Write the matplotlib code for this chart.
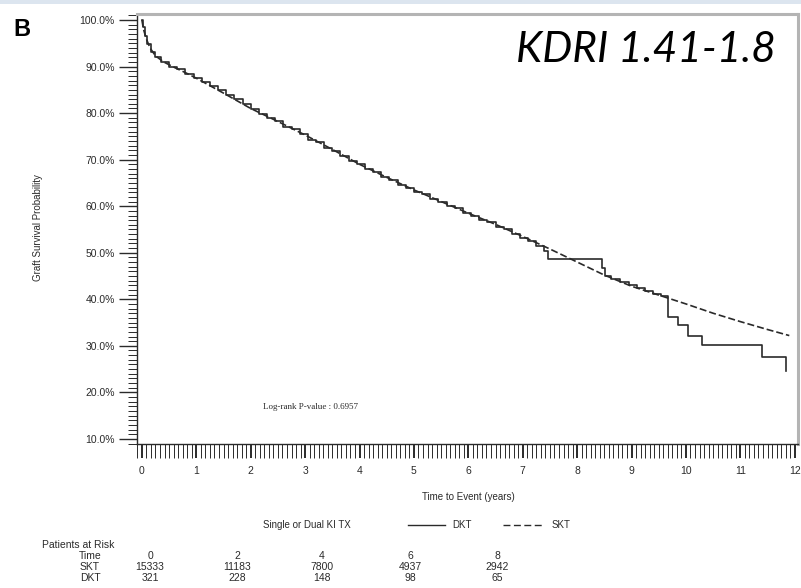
import matplotlib
matplotlib.use('Agg')
import matplotlib.pyplot as plt
from matplotlib.lines import Line2D
from matplotlib.patches import Rectangle
from matplotlib.ticker import MultipleLocator, FuncFormatter

W, H = 801, 588

# SKT: smooth dashed curve (years, survival %)
skt_time = [0, 0.03, 0.08, 0.15, 0.25, 0.4, 0.6, 0.8, 1.0, 1.5, 2.0, 2.5, 3.0, 3.5,
            4.0, 4.5, 5.0, 5.5, 6.0, 6.5, 7.0, 7.5, 8.0, 8.5, 9.0, 9.5, 10.0, 10.5,
            11.0, 11.5, 11.9]
skt_surv = [100, 98.0, 96.0, 94.0, 92.3, 91.0, 89.8, 88.7, 87.5, 84.3, 81.0, 78.2, 75.3,
            72.2, 69.0, 66.2, 63.5, 61.0, 58.5, 56.1, 53.5, 50.8, 48.0, 45.2, 42.8,
            40.9, 39.0, 37.0, 35.2, 33.5, 32.2]

# DKT: step curve
dkt_time = [0, 0.02, 0.05, 0.1, 0.16, 0.24, 0.35,
            0.5, 0.65, 0.8, 0.95, 1.1, 1.25, 1.4, 1.55, 1.7, 1.85,
            2.0, 2.15, 2.3, 2.45, 2.6, 2.75, 2.9, 3.05, 3.2, 3.35,
            3.5, 3.65, 3.8, 3.95, 4.1, 4.25, 4.4, 4.55, 4.7, 4.85,
            5.0, 5.15, 5.3, 5.45, 5.6, 5.75, 5.9, 6.05, 6.2, 6.35,
            6.5, 6.65, 6.8, 6.95, 7.1, 7.25, 7.4, 7.47,
            8.45, 8.52, 8.62, 8.78, 8.95, 9.1, 9.25, 9.4, 9.55,
            9.67, 9.85, 10.04, 10.29, 11.4, 11.84]
dkt_surv = [100, 98.5, 96.6, 94.8, 93.2, 92.0, 91.0,
            90.0, 89.4, 88.3, 87.6, 86.6, 85.8, 84.9, 83.9, 83.0, 81.9,
            80.9, 79.8, 79.0, 78.2, 77.0, 76.5, 75.5, 74.3, 73.8, 72.5,
            71.9, 70.8, 69.7, 69.0, 68.0, 67.4, 66.2, 65.6, 64.6, 64.0,
            63.0, 62.6, 61.5, 61.0, 60.0, 59.6, 58.5, 58.0, 57.0, 56.6,
            55.6, 55.0, 54.1, 53.2, 52.6, 51.5, 50.3, 48.6,
            46.8, 45.0, 44.3, 43.8, 43.1, 42.4, 41.8, 41.2, 40.6,
            36.2, 34.5, 32.2, 30.2, 27.6, 24.5]

risk_time = [0, 2, 4, 6, 8]
risk_skt = [15333, 11183, 7800, 4937, 2942]
risk_dkt = [321, 228, 148, 98, 65]
risk_x = [150, 237, 322, 410, 497]


def fx(px):
    return px / W


def fy(py):
    return 1 - py / H


plt.rcParams['font.family'] = ['Liberation Sans', 'DejaVu Sans']

fig = plt.figure(figsize=(8.01, 5.88), dpi=100)
fig.patch.set_facecolor('white')

# light blue band at top
fig.patches.append(Rectangle((0, fy(4)), 1, 1 - fy(4), transform=fig.transFigure,
                             facecolor='#dce5ef', edgecolor='none'))

ax = fig.add_axes([fx(137), fy(444), fx(798) - fx(137), fy(14) - fy(444)])

ink = '#2a2a2a'
ax.step(dkt_time, dkt_surv, where='post', color=ink, lw=1.2)
ax.plot(skt_time, skt_surv, color=ink, lw=1.2, dashes=(4.2, 1.8))

ax.set_xlim(-0.09, 12.06)
ax.set_ylim(8.9, 101.3)

ax.xaxis.set_major_locator(MultipleLocator(1))
ax.xaxis.set_minor_locator(MultipleLocator(1 / 12))
ax.yaxis.set_major_locator(MultipleLocator(10))
ax.yaxis.set_minor_locator(MultipleLocator(1))
ax.yaxis.set_major_formatter(FuncFormatter(lambda v, p: f'{v:.1f}%'))

ax.tick_params(axis='x', which='major', direction='out', length=10, width=1.4,
               labelsize=7.5, colors=ink, pad=6)
ax.tick_params(axis='x', which='minor', direction='out', length=10, width=0.7, colors=ink)
ax.tick_params(axis='y', which='major', direction='out', length=13, width=1.0,
               labelsize=7.5, colors=ink, pad=3)
ax.tick_params(axis='y', which='minor', direction='out', length=6.5, width=0.7, colors=ink)

for s in ['left', 'bottom']:
    ax.spines[s].set_color(ink)
    ax.spines[s].set_linewidth(1.0)
for s in ['top', 'right']:
    ax.spines[s].set_color('#b4b4b4')
    ax.spines[s].set_linewidth(2.2)

ax.text(0.19, 0.085, 'Log-rank P-value : 0.6957', transform=ax.transAxes,
        fontsize=6.5, family=['Liberation Serif', 'DejaVu Serif'], color=ink,
        va='center', ha='left')

# axis labels
fig.text(fx(468), fy(497), 'Time to Event (years)', ha='center', va='center',
         fontsize=7, color=ink)
fig.text(fx(38), fy(228), 'Graft Survival Probability', ha='center', va='center',
         rotation=90, fontsize=7, color=ink)

# panel letter and title
fig.text(fx(13), fy(30), 'B', ha='left', va='center', fontsize=17,
         fontweight='bold', color='black')
fig.text(fx(776), fy(50), 'KDRI 1.41-1.8', ha='right', va='center', fontsize=30.5,
         style='italic', family=['Lato', 'Open Sans', 'DejaVu Sans'], color='black')

# legend
ly = fy(525)
fig.text(fx(263), ly, 'Single or Dual KI TX', ha='left', va='center', fontsize=7, color=ink)
fig.lines.append(Line2D([fx(408), fx(445)], [ly, ly], transform=fig.transFigure,
                        color=ink, lw=1.0))
fig.text(fx(452), ly, 'DKT', ha='left', va='center', fontsize=7, color=ink)
fig.lines.append(Line2D([fx(503), fx(542)], [ly, ly], transform=fig.transFigure,
                        color=ink, lw=1.0, dashes=(5, 2.5)))
fig.text(fx(552), ly, 'SKT', ha='left', va='center', fontsize=7, color=ink)

# patients at risk table
fig.text(fx(42), fy(545), 'Patients at Risk', ha='left', va='center', fontsize=7.5, color=ink)
fig.text(fx(90), fy(556), 'Time', ha='center', va='center', fontsize=7.5, color=ink)
fig.text(fx(90), fy(567), 'SKT', ha='center', va='center', fontsize=7.5, color=ink)
fig.text(fx(90), fy(578), 'DKT', ha='center', va='center', fontsize=7.5, color=ink)
for x, t, a, b in zip(risk_x, risk_time, risk_skt, risk_dkt):
    fig.text(fx(x), fy(556), str(t), ha='center', va='center', fontsize=7.5, color=ink)
    fig.text(fx(x), fy(567), str(a), ha='center', va='center', fontsize=7.5, color=ink)
    fig.text(fx(x), fy(578), str(b), ha='center', va='center', fontsize=7.5, color=ink)

fig.savefig('out.png', dpi=100)
